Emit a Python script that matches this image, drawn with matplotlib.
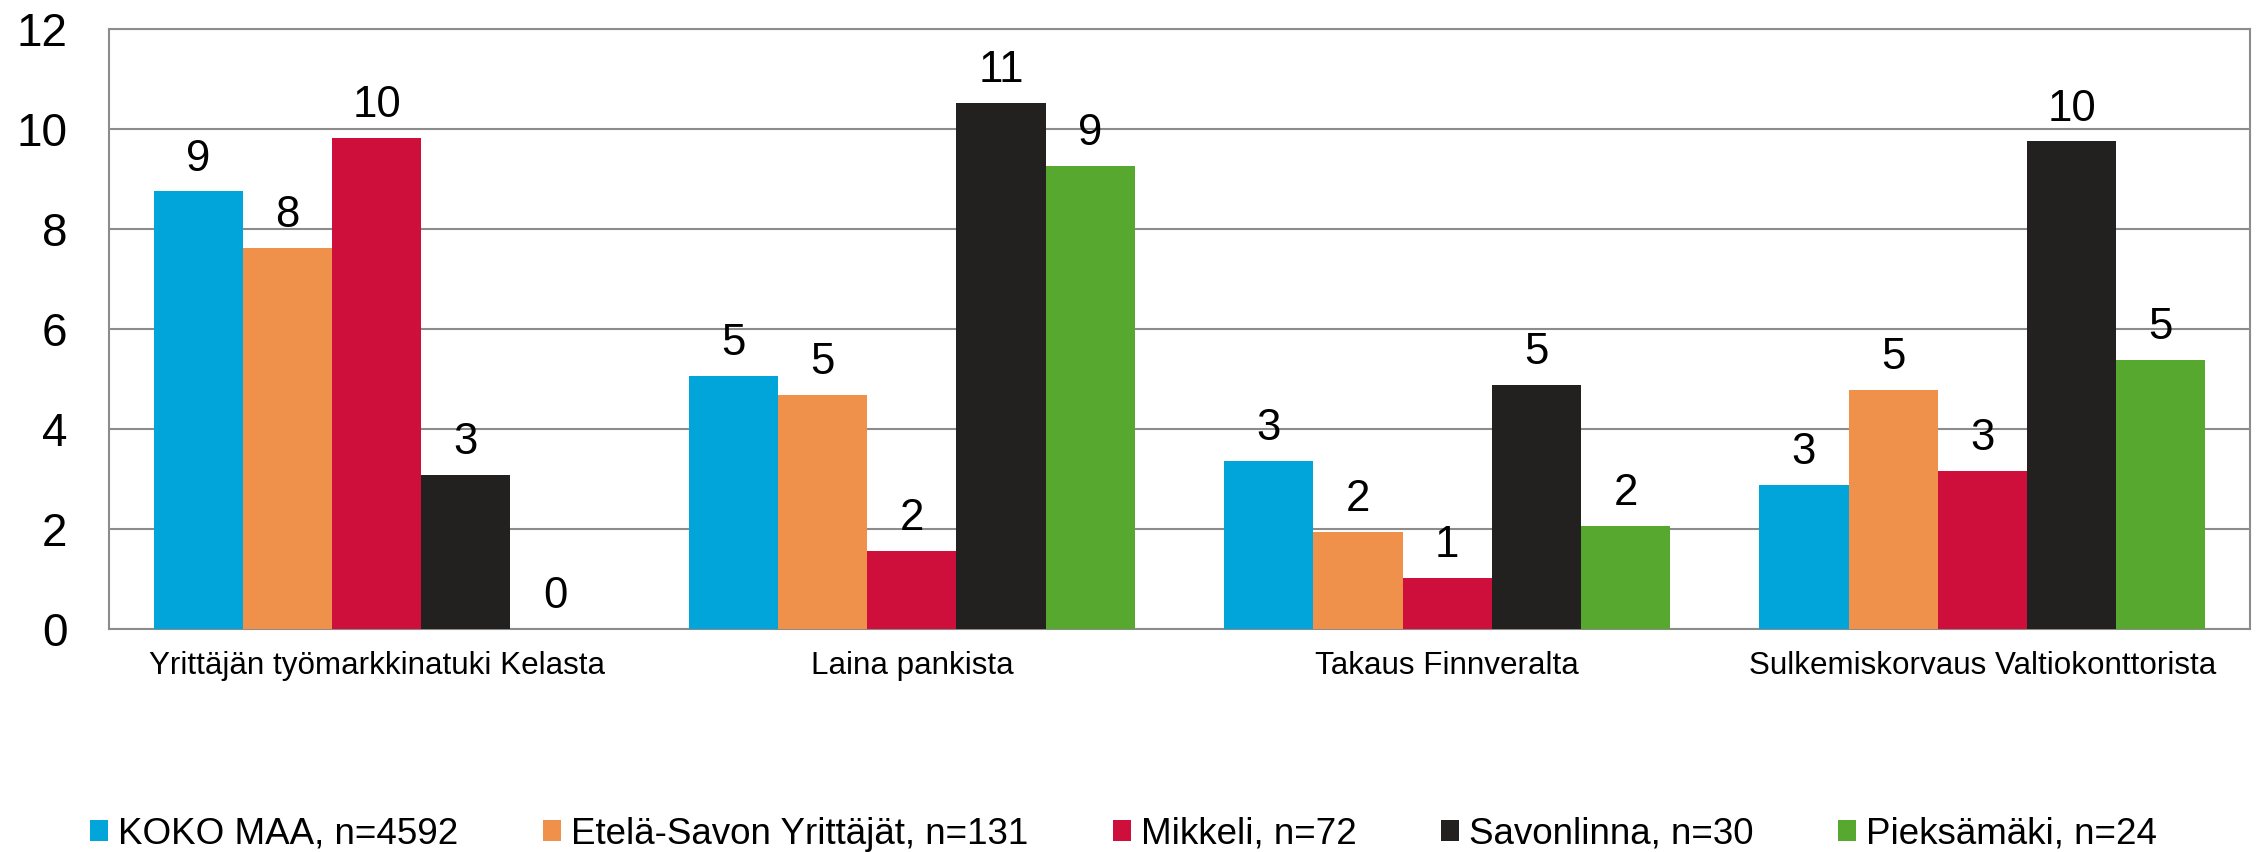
import matplotlib
matplotlib.use("Agg")
import matplotlib.pyplot as plt
import numpy as np

plt.rcParams['font.family'] = ['Liberation Sans', 'DejaVu Sans']

categories = ["Yrittäjän työmarkkinatuki Kelasta", "Laina pankista",
              "Takaus Finnveralta", "Sulkemiskorvaus Valtiokonttorista"]
series_names = ["KOKO MAA, n=4592", "Etelä-Savon Yrittäjät, n=131",
                "Mikkeli, n=72", "Savonlinna, n=30", "Pieksämäki, n=24"]
koko_maa = [8.75, 5.07, 3.37, 2.88]
etela_savo = [7.62, 4.69, 1.95, 4.79]
mikkeli = [9.82, 1.56, 1.03, 3.17]
savonlinna = [3.09, 10.52, 4.89, 9.75]
pieksamaki = [0.0, 9.26, 2.06, 5.39]
series_values = [koko_maa, etela_savo, mikkeli, savonlinna, pieksamaki]
colors = ['#02A5D9', '#F0914B', '#CE0F3C', '#222120', '#57A82E']
yticks = [0, 2, 4, 6, 8, 10, 12]

fig = plt.figure(figsize=(22.57, 8.52), dpi=100)
ax = fig.add_axes([0.0483, 0.2617, 0.9486, 0.7043])

x = np.arange(len(categories))
w = 1 / 6
for i, (vals, name, c) in enumerate(zip(series_values, series_names, colors)):
    pos = x + (i - 2) * w
    ax.bar(pos, vals, width=w, color=c, label=name, zorder=3)
    for xp, v in zip(pos, vals):
        ax.annotate(f"{round(v):d}", (xp, v), xytext=(0, 15), textcoords='offset points',
                    ha='center', va='baseline', fontsize=31.5, color='black')

ax.set_xlim(-0.5, 3.5)
ax.set_ylim(0, 12)
ax.set_yticks(yticks)
ax.set_yticklabels([str(t) for t in yticks], fontsize=33)
ax.set_xticks(x)
ax.set_xticklabels(categories, fontsize=22.6)
ax.tick_params(axis='y', length=0, pad=30)
ax.tick_params(axis='x', length=0, pad=16)
ax.grid(axis='y', color='#8C8C8C', linewidth=1.5, zorder=0)
for s in ax.spines.values():
    s.set_color('#8C8C8C')
    s.set_linewidth(1.5)

fig.legend(loc='center', bbox_to_anchor=(0.4978, 0.0211), ncol=5, frameon=False,
           fontsize=26.5, handlelength=0.49, handleheight=0.49, handletextpad=0.27,
           columnspacing=2.3, borderaxespad=0, borderpad=0)

fig.savefig("out.png", dpi=100)
